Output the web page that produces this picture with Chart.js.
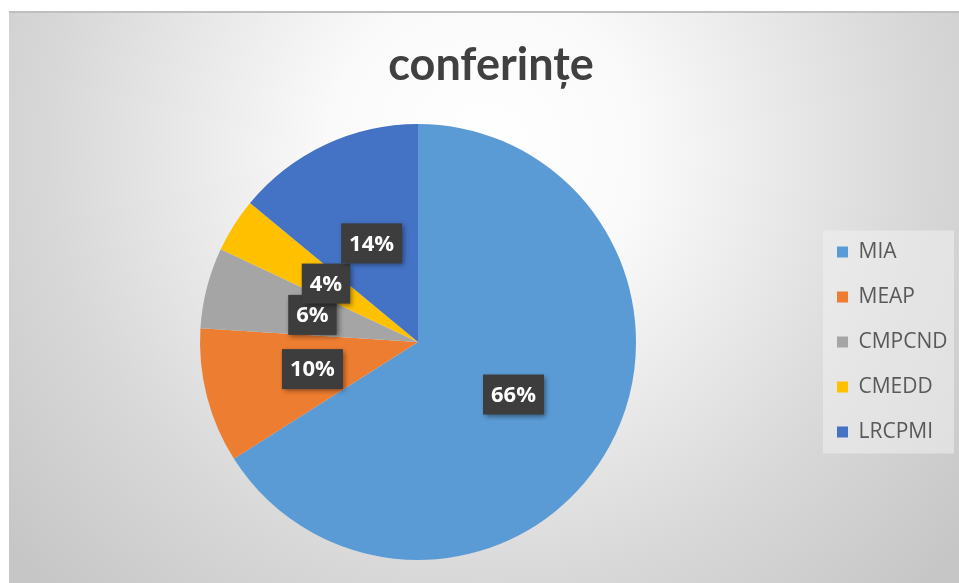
<!DOCTYPE html>
<html>
<head>
<meta charset="utf-8">
<script src="https://cdn.jsdelivr.net/npm/chart.js@4.4.1/dist/chart.umd.min.js"></script>
<style>
    html, body { margin: 0; padding: 0; background: #fff; }
    canvas { display: block; }
</style>
</head>
<body>
<canvas id="pieChart" width="959" height="583"></canvas>
<script>
// ========================================
// DATA
// ========================================
const chartTitle = 'conferințe';
const categories = ['MIA', 'MEAP', 'CMPCND', 'CMEDD', 'LRCPMI'];
const shares = [66, 10, 6, 4, 14];
const sliceColors = ['#5B9BD5', '#ED7D31', '#A5A5A5', '#FFC000', '#4472C4'];

const LEGEND_WIDTH = 146;

// ========================================
// PLUGINS
// ========================================

// gray radial background, top border line, legend panel
const backdropPlugin = {
    id: 'backdrop',
    beforeLayout(chart) {
        const lg = chart.legend;
        if (lg && !lg._fixedWidth) {
            const fit = lg.fit;
            lg.fit = function() {
                fit.call(this);
                this.width = LEGEND_WIDTH;
            };
            lg._fixedWidth = true;
        }
    },
    beforeDraw(chart) {
        const ctx = chart.ctx;
        const w = chart.width, h = chart.height;
        ctx.save();
        ctx.fillStyle = '#fff';
        ctx.fillRect(0, 0, w, h);

        const g = ctx.createRadialGradient(484, 150, 0, 484, 150, 620);
        g.addColorStop(0, '#ffffff');
        g.addColorStop(0.25, '#fafafa');
        g.addColorStop(0.7, '#d8d8d8');
        g.addColorStop(1, '#c6c6c6');
        ctx.fillStyle = g;
        ctx.fillRect(9, 11, w - 9, h - 11);

        ctx.strokeStyle = '#bfbfbf';
        ctx.lineWidth = 2;
        ctx.beginPath();
        ctx.moveTo(9, 12);
        ctx.lineTo(w, 12);
        ctx.stroke();

        // legend panel
        const lg = chart.legend;
        if (lg && lg.legendHitBoxes && lg.legendHitBoxes.length) {
            const boxes = lg.legendHitBoxes;
            const first = boxes[0], last = boxes[boxes.length - 1];
            const x0 = first.left - 14;
            const y0 = first.top - 11;
            const y1 = last.top + last.height + 11;
            ctx.fillStyle = 'rgba(240, 240, 240, 0.55)';
            ctx.fillRect(x0, y0, lg.right - 5 - x0, y1 - y0);
        }
        ctx.restore();
    }
};

// dark percentage boxes at the middle of each slice
const sliceLabelPlugin = {
    id: 'sliceLabels',
    afterDatasetsDraw(chart) {
        const ctx = chart.ctx;
        const meta = chart.getDatasetMeta(0);
        ctx.save();
        ctx.font = 'bold 22px "Open Sans"';
        ctx.textAlign = 'center';
        ctx.textBaseline = 'middle';
        meta.data.forEach((arc, i) => {
            const pos = arc.tooltipPosition();
            const text = shares[i] + '%';
            const bw = ctx.measureText(text).width + 16;
            const bh = 40;

            ctx.shadowColor = 'rgba(0, 0, 0, 0.45)';
            ctx.shadowBlur = 5;
            ctx.shadowOffsetX = 2;
            ctx.shadowOffsetY = 2;
            ctx.fillStyle = '#3d3d3d';
            ctx.fillRect(pos.x - bw / 2, pos.y - bh / 2, bw, bh);

            ctx.shadowColor = 'transparent';
            ctx.fillStyle = '#ffffff';
            ctx.fillText(text, pos.x, pos.y + 1);
        });
        ctx.restore();
    }
};

// ========================================
// PIE CHART
// ========================================
new Chart(document.getElementById('pieChart'), {
    type: 'pie',
    data: {
        labels: categories,
        datasets: [{
            data: shares,
            backgroundColor: sliceColors,
            borderWidth: 0
        }]
    },
    options: {
        responsive: false,
        animation: false,
        layout: {
            padding: { top: 0, left: 23, right: 0, bottom: 23 }
        },
        plugins: {
            title: {
                display: true,
                text: chartTitle,
                color: '#404040',
                font: { family: 'Lato', size: 45, weight: 'bold', lineHeight: 1.2 },
                padding: { top: 38, bottom: 32 }
            },
            legend: {
                display: true,
                position: 'right',
                fullSize: false,
                labels: {
                    color: '#595959',
                    font: { family: '"Open Sans"', size: 21 },
                    boxWidth: 11,
                    boxHeight: 11,
                    padding: 24
                }
            },
            tooltip: { enabled: false }
        }
    },
    plugins: [backdropPlugin, sliceLabelPlugin]
});
</script>
</body>
</html>
